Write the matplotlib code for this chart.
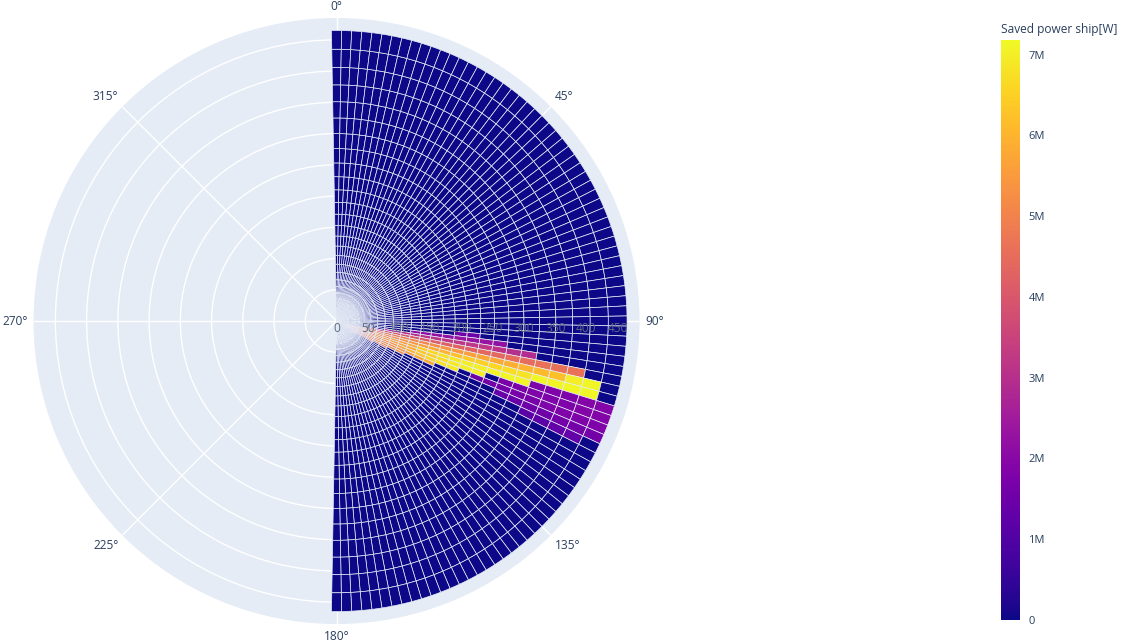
import numpy as np
import matplotlib.pyplot as plt
from matplotlib import cm, colors
from matplotlib.transforms import offset_copy

plt.rcParams['font.family'] = ['Open Sans', 'DejaVu Sans']

# wind direction bins [deg] and wind speed bins [m/s]
wind_dir = list(range(0, 181, 2))
wind_speed = list(range(1, 31))

# saved power [MW] for the directions where the rotor helps; every other cell is 0
# key: wind direction, value: {wind speed: saved power}
saved_dir = [96, 98, 100, 102, 104, 106, 108, 110, 112, 114, 116, 118, 120, 122, 124, 126, 128]
saved_runs = {
    96:  {20: 1.5, 21: 1.5},
    98:  {16: 2.1, 17: 2.1, 18: 2.2, 19: 2.2, 20: 2.3, 21: 2.3, 22: 2.3, 23: 2.2},
    100: {13: 2.8, 14: 2.9, 15: 3.0, 16: 3.0, 17: 3.1, 18: 3.1, 19: 3.2, 20: 3.2, 21: 3.2,
          22: 3.2, 23: 3.1, 24: 3.0, 25: 2.9},
    102: {11: 3.6, 12: 3.7, 13: 3.8, 14: 3.9, 15: 4.0, 16: 4.0, 17: 4.1, 18: 4.2, 19: 4.2,
          20: 4.3, 21: 4.3, 22: 4.4, 23: 4.4, 24: 4.5, 25: 4.5, 26: 4.6, 27: 4.6, 28: 4.6},
    104: {9: 4.0, 10: 4.2, 11: 4.4, 12: 4.5, 13: 4.6, 14: 4.8, 15: 4.9, 16: 5.0, 17: 5.1,
          18: 5.2, 19: 5.4, 20: 5.5, 21: 5.6, 22: 5.7, 23: 5.8, 24: 5.9, 25: 6.0, 26: 6.1,
          27: 6.2, 28: 7.0, 29: 7.1},
    106: {8: 3.9, 9: 4.1, 10: 4.4, 11: 4.7, 12: 4.9, 13: 5.0, 14: 5.1, 15: 5.3, 16: 5.4,
          17: 5.6, 18: 5.8, 19: 6.0, 20: 6.2, 21: 6.4, 22: 6.5, 23: 6.6, 24: 6.7, 25: 6.8,
          26: 7.1, 27: 7.1, 28: 7.15, 29: 7.15},
    108: {7: 3.8, 8: 4.0, 9: 4.2, 10: 4.5, 11: 4.8, 12: 5.1, 13: 5.3, 14: 5.5, 15: 5.6,
          16: 5.8, 17: 6.4, 18: 6.6, 19: 6.8, 20: 6.9, 21: 7.0, 22: 7.0, 23: 7.05, 24: 7.1,
          25: 7.1, 26: 1.8, 27: 1.8, 28: 1.8, 29: 1.9, 30: 1.9},
    110: {6: 3.7, 7: 3.9, 8: 4.1, 9: 4.4, 10: 4.7, 11: 5.0, 12: 5.3, 13: 5.4, 14: 5.5,
          15: 5.7, 16: 5.8, 17: 6.3, 18: 6.5, 19: 6.7, 20: 6.9, 21: 7.0, 22: 7.0,
          24: 1.7, 25: 1.7, 26: 1.8, 27: 1.8, 28: 1.8, 29: 1.9, 30: 1.9},
    112: {5: 3.6, 6: 3.7, 7: 3.9, 8: 4.1, 9: 4.4, 10: 4.7, 11: 5.0, 12: 5.2, 13: 5.3,
          14: 5.4, 15: 5.6, 16: 6.0, 17: 6.3, 18: 6.6, 19: 6.8, 20: 6.9,
          22: 1.5, 23: 1.6, 24: 1.6, 25: 1.7, 26: 1.7, 27: 1.8, 28: 1.8, 29: 1.8, 30: 1.8},
    114: {5: 3.5, 6: 3.6, 7: 3.8, 8: 4.0, 9: 4.3, 10: 4.6, 11: 4.9, 12: 5.1, 13: 5.2,
          14: 5.3, 15: 5.4, 16: 5.5, 17: 5.7, 18: 5.8,
          24: 1.4, 25: 1.4, 26: 1.5, 27: 1.5, 28: 1.6, 29: 1.6, 30: 1.6},
    116: {4: 3.4, 5: 3.5, 6: 3.6, 7: 3.8, 8: 3.9, 9: 4.2, 10: 4.5, 11: 4.8, 12: 5.0,
          13: 5.1, 14: 5.2, 15: 5.3, 26: 1.2, 27: 1.2, 28: 1.3, 29: 1.3},
    118: {4: 3.3, 5: 3.4, 6: 3.5, 7: 3.7, 8: 3.8, 9: 4.1, 10: 4.4, 11: 4.6, 12: 4.7, 13: 4.8},
    120: {3: 3.2, 4: 3.3, 5: 3.4, 6: 3.5, 7: 3.6, 8: 3.7, 9: 4.0, 10: 4.3, 11: 4.5},
    122: {3: 3.1, 4: 3.2, 5: 3.3, 6: 3.4, 7: 3.5, 8: 3.6, 9: 3.9},
    124: {3: 3.0, 4: 3.1, 5: 3.2, 6: 3.3, 7: 3.4, 8: 3.5},
    126: {2: 2.9, 3: 2.9, 4: 3.0, 5: 3.0, 6: 3.1, 7: 3.1},
    128: {2: 2.8, 3: 2.8, 4: 2.9, 5: 2.9, 6: 2.9},
}
power_max = 7.18e6

power = np.zeros((len(wind_dir), len(wind_speed)))
for d in saved_dir:
    for s, p in saved_runs[d].items():
        power[wind_dir.index(d), wind_speed.index(s)] = p * 1e6

fig = plt.figure(figsize=(11.35, 6.43), dpi=100)
ax = fig.add_axes([0.0295, 0.0295, 0.534, 0.9425], projection='polar')
ax.set_facecolor('#E5ECF6')
ax.set_theta_zero_location('N')
ax.set_theta_direction(-1)
ax.set_axisbelow(True)

cmap = plt.get_cmap('plasma')
norm = colors.Normalize(0, power_max)
width = np.deg2rad(2)

# stacked bars: each speed bin is a segment as long as the speed itself
for i, d in enumerate(wind_dir):
    base = 0
    for j, s in enumerate(wind_speed):
        ax.bar(np.deg2rad(d), s, width=width, bottom=base,
               color=cmap(norm(power[i, j])), edgecolor='#E5ECF6', linewidth=0.5)
        base += s

r_max = 485
ax.set_ylim(0, r_max)
ax.set_yticks(range(50, 451, 50))
ax.set_yticklabels([])
ax.set_xticks(np.deg2rad(range(0, 360, 45)))
ax.set_xticklabels([])
ax.tick_params(axis='both', length=0)
ax.grid(color='white', linewidth=1)
ax.spines['polar'].set_visible(False)

# angle labels just outside the circle
gap = 5.5
for a in range(0, 360, 45):
    sx, cy = np.sin(np.deg2rad(a)), np.cos(np.deg2rad(a))
    ha = 'left' if sx > 0.1 else ('right' if sx < -0.1 else 'center')
    va = 'bottom' if cy > 0.1 else ('top' if cy < -0.1 else 'center')
    t = offset_copy(ax.transData, fig=fig, x=gap * sx, y=gap * cy, units='dots')
    ax.text(np.deg2rad(a), r_max, f'{a}°', transform=t, ha=ha, va=va,
            fontsize=8.6, color='#2a3f5f', clip_on=False)

# radial tick labels sit on top of the bars
for r in range(0, 451, 50):
    t = offset_copy(ax.transData, fig=fig, x=0, y=-7, units='dots')
    ax.text(np.deg2rad(90), r, str(r), transform=t, ha='center', va='center',
            fontsize=8.6, color='#5d6b80', zorder=10)

cax = fig.add_axes([1001 / 1135, 1 - 620 / 643, 19 / 1135, 580 / 643])
cb = fig.colorbar(cm.ScalarMappable(norm=norm, cmap=cmap), cax=cax)
cb.set_ticks([0, 1e6, 2e6, 3e6, 4e6, 5e6, 6e6, 7e6])
cb.set_ticklabels(['0', '1M', '2M', '3M', '4M', '5M', '6M', '7M'])
cb.outline.set_visible(False)
cax.tick_params(length=0, labelsize=8, labelcolor='#2a3f5f', pad=6)
fig.text(1001 / 1135, 1 - 30 / 643, 'Saved power ship[W]', fontsize=8.6, color='#2a3f5f',
         ha='left', va='center')

fig.savefig('out.png', dpi=100)
